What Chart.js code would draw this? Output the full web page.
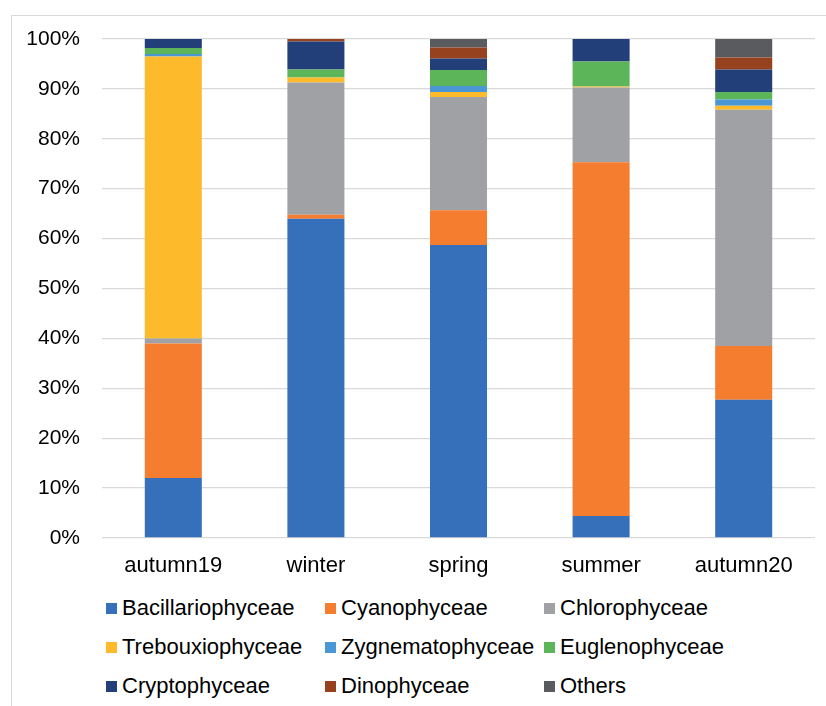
<!DOCTYPE html>
<html>
<head>
<meta charset="utf-8">
<script src="https://cdn.jsdelivr.net/npm/chart.js@4"></script>
<style>
  html, body { margin: 0; padding: 0; background: #fff; }
  #wrap { position: relative; width: 826px; height: 706px; overflow: hidden; font-family: "Liberation Sans", Arial, sans-serif; }
  #frame { position: absolute; left: 11px; top: 15px; width: 900px; height: 800px; border: 1px solid #d9d9d9; box-sizing: border-box; }
  #cbox { position: absolute; left: 0; top: 0; width: 826px; height: 590px; }
  .li { position: absolute; font-size: 22px; color: #000; line-height: 26px; white-space: nowrap; }
  .li span.sw { position: absolute; left: 0; top: 8px; width: 11px; height: 11px; }
  .li span.tx { position: absolute; left: 16px; top: 0; }
</style>
</head>
<body>
<div id="wrap">
  <div id="frame"></div>
  <div id="cbox"><canvas id="c"></canvas></div>
  <div id="legend"></div>
</div>
<script>
const categories = ["autumn19", "winter", "spring", "summer", "autumn20"];
const seriesNames = ["Bacillariophyceae", "Cyanophyceae", "Chlorophyceae", "Trebouxiophyceae", "Zygnematophyceae", "Euglenophyceae", "Cryptophyceae", "Dinophyceae", "Others"];
const bacillariophyceae = [12.0, 64.0, 58.7, 4.4, 27.7];
const cyanophyceae      = [27.0, 0.8, 7.0, 70.9, 10.8];
const chlorophyceae     = [1.0, 26.5, 22.7, 15.0, 47.3];
const trebouxiophyceae  = [56.5, 1.0, 1.0, 0.2, 0.8];
const zygnematophyceae  = [0.5, 0.0, 1.2, 0.0, 1.3];
const euglenophyceae    = [1.2, 1.6, 3.2, 5.0, 1.5];
const cryptophyceae     = [1.8, 5.6, 2.3, 4.5, 4.5];
const dinophyceae       = [0.0, 0.5, 2.2, 0.0, 2.4];
const others            = [0.0, 0.0, 1.7, 0.0, 3.7];
const yTicks = [0, 10, 20, 30, 40, 50, 60, 70, 80, 90, 100];
const colors = ["#3670BA", "#F47D30", "#A0A1A4", "#FDBB2C", "#4A97D5", "#5DB55A", "#233F7A", "#97421F", "#5A5B5E"];

const seriesValues = [bacillariophyceae, cyanophyceae, chlorophyceae, trebouxiophyceae, zygnematophyceae, euglenophyceae, cryptophyceae, dinophyceae, others];

const FAM = '"Liberation Sans", Arial, sans-serif';

const chart = new Chart(document.getElementById('c'), {
  type: 'bar',
  data: {
    labels: categories,
    datasets: seriesNames.map((n, i) => ({
      label: n,
      data: seriesValues[i],
      backgroundColor: colors[i],
      borderWidth: 0,
      barPercentage: 0.4,
      categoryPercentage: 1.0
    }))
  },
  options: {
    responsive: true,
    maintainAspectRatio: false,
    animation: false,
    layout: { padding: { top: 39, right: 11, left: 0, bottom: 0 } },
    plugins: { legend: { display: false }, tooltip: { enabled: false } },
    scales: {
      x: {
        stacked: true,
        grid: { display: false, drawTicks: false },
        border: { display: false },
        ticks: { color: '#000', font: { family: FAM, size: 22 }, padding: 15, maxRotation: 0 },
        afterFit: s => { s.height = 52; }
      },
      y: {
        stacked: true,
        min: 0, max: 100,
        afterBuildTicks: s => { s.ticks = yTicks.map(v => ({ value: v })); },
        grid: { color: '#d9d9d9', lineWidth: 1.3, drawTicks: false },
        border: { display: false },
        ticks: { color: '#000', font: { family: FAM, size: 21 }, padding: 22, callback: v => v + '%' },
        afterFit: s => { s.width = 102; }
      }
    }
  }
});

// HTML legend built from the chart datasets
const leg = document.getElementById('legend');
const colX = [106, 325, 544];
const rowY = [595, 634, 673];
chart.data.datasets.forEach((ds, i) => {
  const d = document.createElement('div');
  d.className = 'li';
  d.style.left = colX[i % 3] + 'px';
  d.style.top = rowY[Math.floor(i / 3)] + 'px';
  d.innerHTML = '<span class="sw" style="background:' + ds.backgroundColor + '"></span><span class="tx">' + ds.label + '</span>';
  leg.appendChild(d);
});
</script>
</body>
</html>
